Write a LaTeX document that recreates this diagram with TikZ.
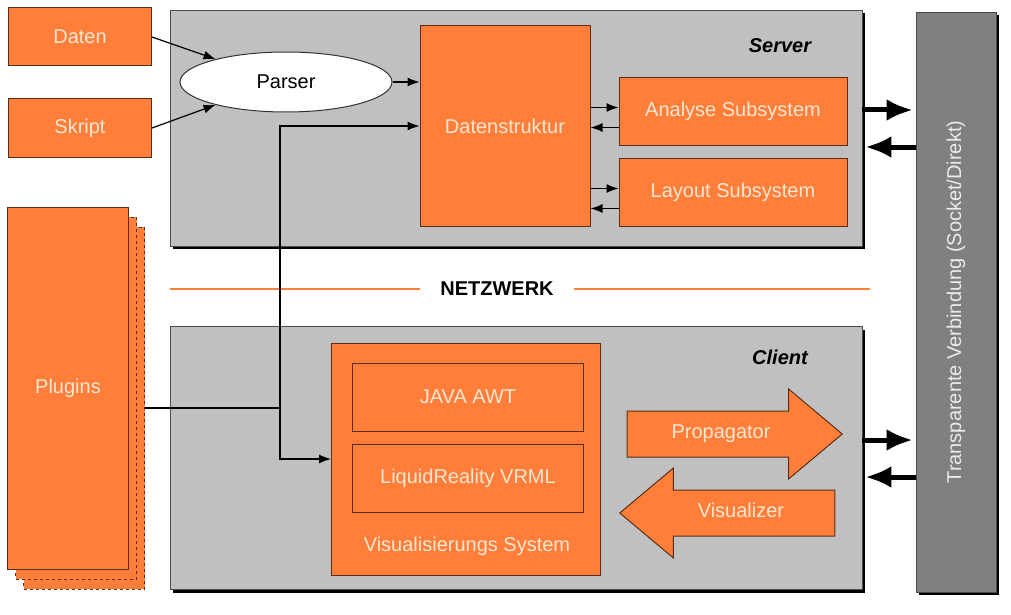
\documentclass[tikz,border=0pt]{standalone}
\usepackage{fontspec}
\setmainfont{Liberation Sans}
\usetikzlibrary{positioning,calc,shapes.geometric,shapes.arrows,arrows.meta,shadows}
\definecolor{korange}{RGB}{255,127,58}
\definecolor{klight}{RGB}{255,230,210}
\definecolor{kgray}{RGB}{192,192,192}
\definecolor{kbar}{RGB}{128,128,128}
\definecolor{kedge}{RGB}{90,45,20}

\begin{document}
\begin{tikzpicture}[x=1pt, y=-1pt, font=\fontsize{20}{24}\selectfont,
          obox/.style={draw=kedge, fill=korange, text=klight, inner sep=0pt, line width=1pt},
          zone/.style={draw=black!70, fill=kgray, inner sep=0pt, line width=0.8pt,
                       drop shadow={shadow xshift=3pt, shadow yshift=-3pt, fill=black, opacity=1}},
          title/.style={font=\fontsize{20}{24}\selectfont\bfseries\itshape},
          bigarrow/.style={single arrow, draw=kedge, fill=korange, text=klight, line width=1pt,
                           minimum height=215pt, minimum width=90pt, single arrow head extend=22pt,
                           single arrow tip angle=80, inner xsep=2pt, inner ysep=13pt,
                           text height=14pt, text depth=5pt},
          link/.style={line width=1.2pt, -{Latex[length=12pt,width=9pt]}},
          fat/.style={line width=5pt, -{Latex[length=26pt,width=22pt]}, shorten >=3pt}]
        \useasboundingbox (0,0) rectangle (1011,615);
        \node[zone, minimum width=692pt, minimum height=236pt] (server) at (516,128) {};
        \node[zone, minimum width=692pt, minimum height=263pt] (client) at (516,458) {};
        \node[zone, fill=kbar, minimum width=80pt, minimum height=580pt] (bar) at (956,302) {};
        \node[rotate=90, text=black!8] (bartext) at (bar) {Transparente Verbindung (Socket/Direkt)};
        \node[title] (servertitle) at (780,46) {Server};
        \node[title] (clienttitle) at (780,357) {Client};

        \node[obox, minimum width=143pt, minimum height=58pt] (daten)  at (80,37)  {Daten};
        \node[obox, minimum width=143pt, minimum height=58pt] (skript) at (80,128) {Skript};
        \node[obox, dashed, minimum width=121pt, minimum height=362pt] (plug3) at (84,408) {};
        \node[obox, dashed, minimum width=121pt, minimum height=362pt] (plug2) at (76,398) {};
        \node[obox, minimum width=121pt, minimum height=362pt] (plugins) at (68,388) {Plugins};

        \node[ellipse, draw=black!80, fill=white, line width=1pt, minimum width=212pt, minimum height=60pt] (parser) at (286,82) {Parser};
        \node[obox, minimum width=170pt, minimum height=200pt] (dstruct)  at (505,126)   {Datenstruktur};
        \node[obox, minimum width=228pt, minimum height=67pt]  (analyse)  at (733,111.5) {Analyse Subsystem};
        \node[obox, minimum width=228pt, minimum height=68pt]  (layout)   at (733,192.5) {Layout Subsystem};

        \node[obox, minimum width=269pt, minimum height=232pt] (vis)    at (466,459) {};
        \node[obox, minimum width=231pt, minimum height=68pt]  (awt)    at (468,397) {JAVA AWT};
        \node[obox, minimum width=231pt, minimum height=68pt]  (vrml)   at (468,478) {LiquidReality VRML};
        \node[text=klight] (vislabel) at (467,546) {Visualisierungs System};

        \node[bigarrow, anchor=tip] (prop) at (843,434) {Propagator};
        \node[bigarrow, shape border rotate=180, anchor=tip] (visu) at (619,513) {Visualizer};

        \node[font=\fontsize{20}{24}\selectfont\bfseries, inner xsep=20pt] (netz) at (497,289) {NETZWERK};
        \draw[korange, line width=1.6pt] (server.west |- netz) -- (netz.west);
        \draw[korange, line width=1.6pt] (netz.east) -- ($(server.east |- netz)+(8,0)$);

        \draw[link] (daten.east) -- (parser.162);
        \draw[link] (skript.east) -- (parser.198);
        \draw[link] (parser.east) -- (parser.east -| dstruct.west);
        \foreach \s in {analyse, layout} {
          \coordinate (a) at ($(\s.west)+(0,-4)$);
          \coordinate (b) at ($(\s.west)+(0,16)$);
          \draw[link] (a -| dstruct.east) -- (a);
          \draw[link] (b) -- (b -| dstruct.east);
        }
        \coordinate (bus) at (280,408);
        \draw[line width=1.2pt] (plug3.east) -- (bus);
        \draw[link] (bus) |- (dstruct.west);
        \draw[link] (bus) |- (vis.west);

        \foreach \z in {server, client} {
          \coordinate (out) at ($(\z.east)+(0,-18)$);
          \coordinate (in) at ($(\z.east)+(0,19)$);
          \draw[fat] (out) -- (out -| bar.west);
          \draw[fat] (in -| bar.west) -- (in);
        }
      \end{tikzpicture}
\end{document}
